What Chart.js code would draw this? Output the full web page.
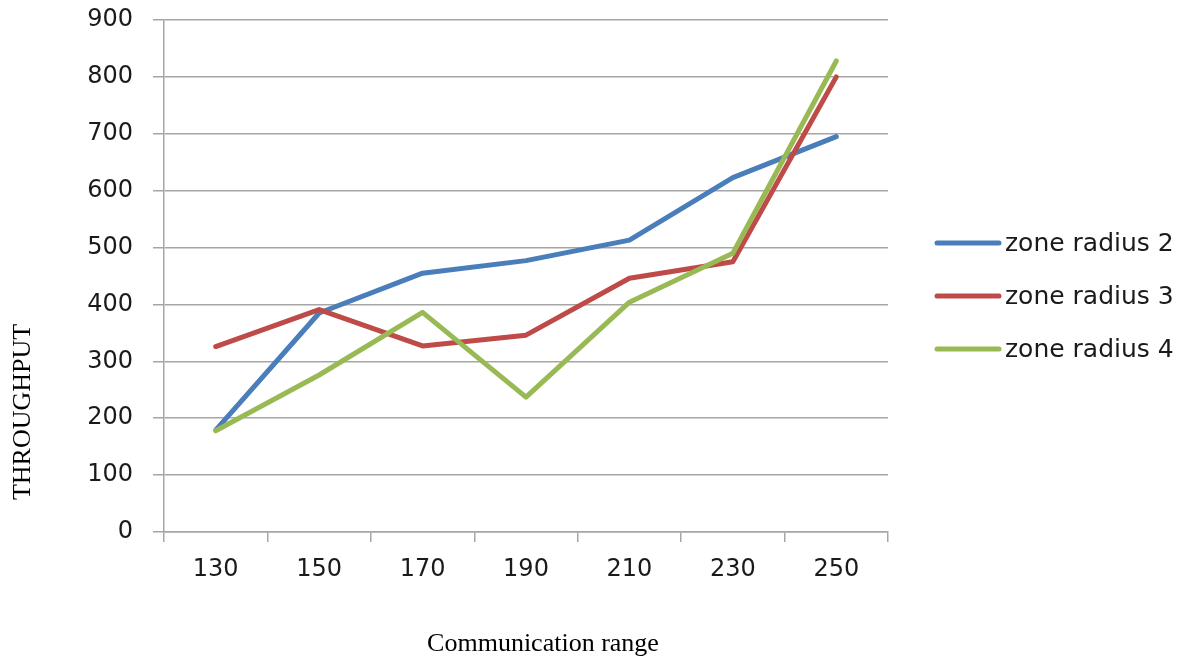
<!DOCTYPE html>
<html>
<head>
<meta charset="utf-8">
<script src="https://cdn.jsdelivr.net/npm/chart.js@4/dist/chart.umd.min.js"></script>
<style>
  html, body { margin: 0; padding: 0; background: #ffffff; }
  #wrap { width: 1184px; height: 659px; }
</style>
</head>
<body>
<div id="wrap"><canvas id="chart" width="1184" height="659"></canvas></div>
<script>
// Communication range (x categories)
const ranges = ['130', '150', '170', '190', '210', '230', '250'];
// Throughput per zone radius
const zoneRadius2 = [179, 385, 455, 477, 513, 623, 695];
const zoneRadius3 = [326, 391, 327, 346, 446, 475, 800];
const zoneRadius4 = [178, 276, 386, 237, 404, 490, 828];
const seriesNames = ['zone radius 2', 'zone radius 3', 'zone radius 4'];
const seriesColors = ['#4a7ebb', '#be4b48', '#98b954'];
const yTicks = { min: 0, max: 900, step: 100 };

const gridColor = '#a6a6a6';
const tickFont = { family: 'DejaVu Sans', size: 24 };

// Axis titles and the right-hand legend
const decorations = {
  id: 'decorations',
  afterDraw(chart) {
    const ctx = chart.ctx;
    const area = chart.chartArea;
    ctx.save();
    ctx.fillStyle = '#000000';
    ctx.font = '26px "Liberation Serif"';
    ctx.textAlign = 'center';
    ctx.textBaseline = 'middle';
    ctx.fillText('Communication range', area.left + 379, 644);
    ctx.translate(23, 412);
    ctx.rotate(-Math.PI / 2);
    ctx.fillText('THROUGHPUT', 0, 0);
    ctx.restore();

    ctx.save();
    ctx.font = '25px "DejaVu Sans"';
    ctx.textAlign = 'left';
    ctx.textBaseline = 'middle';
    chart.data.datasets.forEach((ds, i) => {
      const y = 243 + i * 53;
      ctx.strokeStyle = ds.borderColor;
      ctx.lineWidth = 5;
      ctx.lineCap = 'round';
      ctx.beginPath();
      ctx.moveTo(937, y);
      ctx.lineTo(999, y);
      ctx.stroke();
      ctx.fillStyle = '#1a1a1a';
      ctx.fillText(ds.label, 1005, y + 1);
    });
    ctx.restore();
  }
};

const makeSet = (i, values, order) => ({
  label: seriesNames[i],
  data: values,
  borderColor: seriesColors[i],
  backgroundColor: seriesColors[i],
  borderWidth: 5,
  borderCapStyle: 'round',
  borderJoinStyle: 'round',
  pointRadius: 0,
  tension: 0,
  order: order
});

new Chart(document.getElementById('chart'), {
  type: 'line',
  data: {
    labels: ranges,
    datasets: [
      makeSet(0, zoneRadius2, 2),
      makeSet(1, zoneRadius3, 1),
      makeSet(2, zoneRadius4, 0)
    ]
  },
  options: {
    responsive: false,
    animation: false,
    layout: { padding: { left: 0, right: 296, top: 20, bottom: 0 } },
    plugins: {
      legend: { display: false },
      tooltip: { enabled: false }
    },
    scales: {
      x: {
        offset: true,
        grid: {
          offset: true,
          drawOnChartArea: false,
          drawTicks: true,
          tickLength: 10,
          color: gridColor,
          lineWidth: 1.5
        },
        border: { display: true, color: gridColor, width: 1.5 },
        ticks: { font: tickFont, color: '#1a1a1a', padding: 13, maxRotation: 0 },
        afterFit(scale) {
          scale.height = 127;
          scale.paddingLeft = 0;
          scale.paddingRight = 0;
        }
      },
      y: {
        min: yTicks.min,
        max: yTicks.max,
        grid: {
          drawOnChartArea: true,
          drawTicks: true,
          tickLength: 11,
          color: gridColor,
          lineWidth: 1.5
        },
        border: { display: true, color: gridColor, width: 1.5 },
        ticks: { stepSize: yTicks.step, font: tickFont, color: '#1a1a1a', padding: 20 },
        afterFit(scale) {
          scale.width = 164;
          scale.paddingTop = 0;
          scale.paddingBottom = 0;
        }
      }
    }
  },
  plugins: [decorations]
});
</script>
</body>
</html>
